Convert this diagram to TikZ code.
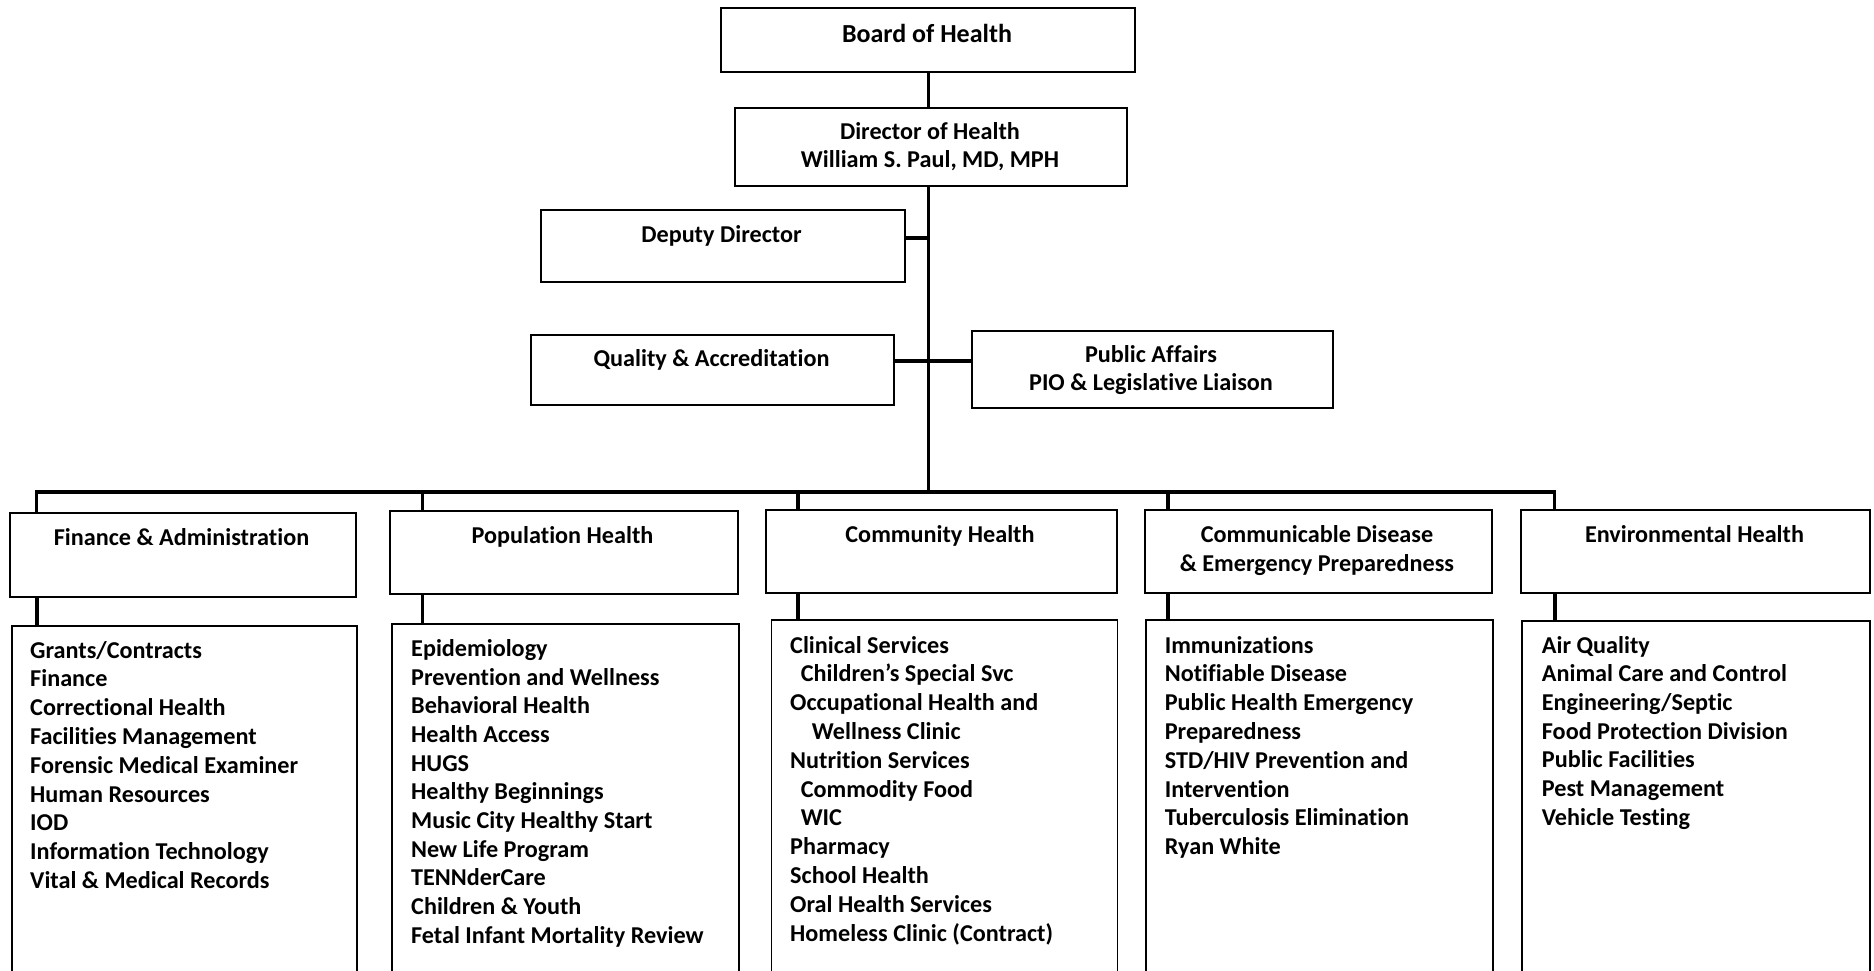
\documentclass[tikz,border=0pt]{standalone}
\usepackage{fontspec}
\setmainfont{Carlito}[Ligatures={NoCommon,NoRare,NoContextual}]
\begin{document}
\begin{tikzpicture}[x=1pt,y=-1pt,
  box/.style={draw=black, line width=1.8pt, inner sep=0pt, anchor=north west},
  conn/.style={line width=3.4pt, black},
  lbl/.style={font=\fontsize{24.2}{29}\selectfont\bfseries, inner sep=0pt, anchor=base},
  item/.style={font=\fontsize{24.2}{29}\selectfont\bfseries, inner sep=0pt, anchor=base west}]
\useasboundingbox[fill=white] (0,0) rectangle (1874,971);

% top boxes
\node[box, minimum width=414pt, minimum height=64pt] (board) at (720,7) {};
\node[box, minimum width=392pt, minimum height=78pt] (director) at (734,107) {};
\node[box, minimum width=364pt, minimum height=72pt] (deputy) at (540,209) {};
\node[box, minimum width=363pt, minimum height=70pt] (quality) at (530,334) {};
\node[box, minimum width=361pt, minimum height=77pt] (public) at (971,330) {};

% department headers
\node[box, minimum width=346pt, minimum height=84pt] (finH) at (9,512) {};
\node[box, minimum width=348pt, minimum height=83pt] (popH) at (389,510) {};
\node[box, minimum width=351pt, minimum height=83pt] (comH) at (765,509) {};
\node[box, minimum width=347pt, minimum height=83pt] (cdH) at (1144,509) {};
\node[box, minimum width=349pt, minimum height=83pt] (envH) at (1520,509) {};

% lists (run off the page bottom)
\node[box, minimum width=345pt, minimum height=380pt] (finL) at (11,625) {};
\node[box, minimum width=347pt, minimum height=380pt] (popL) at (391,623) {};
\node[box, minimum width=346pt, minimum height=380pt] (comL) at (770.5,619) {};
\node[box, minimum width=347pt, minimum height=380pt] (cdL) at (1145,619) {};
\node[box, minimum width=348pt, minimum height=380pt] (envL) at (1521,620) {};

% connector coordinates
\coordinate (busM) at (928.5,492);
\coordinate (busL) at (36.5,492);
\coordinate (busR) at (1554.5,492);
\coordinate (dj) at (928.5,238);
\coordinate (qj) at (928.5,361);
\coordinate (xf) at (37,0);
\coordinate (xp) at (422.5,0);
\coordinate (xc) at (798,0);
\coordinate (xd) at (1168,0);
\coordinate (xe) at (1555,0);

% connectors
\draw[conn] (board.south -| busM) -- (director.north -| busM);
\draw[conn] (director.south -| busM) -- (busM);
\draw[conn] (deputy.east |- dj) -- (dj);
\draw[conn] (quality.east |- qj) -- (public.west |- qj);
\draw[conn] (finH.north -| busL) -- (busL) -- (busR) -- (envH.north -| busR);
\draw[conn] (popH.north -| xp) -- (xp |- busM);
\draw[conn] (comH.north -| xc) -- (xc |- busM);
\draw[conn] (cdH.north -| xd) -- (xd |- busM);
\draw[conn] (finH.south -| xf) -- (finL.north -| xf);
\draw[conn] (popH.south -| xp) -- (popL.north -| xp);
\draw[conn] (comH.south -| xc) -- (comL.north -| xc);
\draw[conn] (cdH.south -| xd) -- (cdL.north -| xd);
\draw[conn] (envH.south -| xe) -- (envL.north -| xe);

% labels
\node[lbl, font=\fontsize{26}{31}\selectfont\bfseries] (tBoard) at (927,42.7) {Board of Health};
\node[lbl] (tDir1) at (930,139.3) {Director of Health};
\node[lbl] (tDir2) at (930,167.7) {William S. Paul, MD, MPH};
\node[lbl] (tDep) at (721.5,242) {Deputy Director};
\node[lbl] (tQual) at (711.5,366.5) {Quality \& Accreditation};
\node[lbl] (tPub1) at (1151,362.7) {Public Affairs};
\node[lbl] (tPub2) at (1151,390.7) {PIO \& Legislative Liaison};
\node[lbl] (tFin) at (181.5,545) {Finance \& Administration};
\node[lbl] (tPop) at (562.5,543) {Population Health};
\node[lbl] (tCom) at (940,542.7) {Community Health};
\node[lbl] (tCd1) at (1317,542.7) {Communicable Disease};
\node[lbl] (tCd2) at (1317,571) {\& Emergency Preparedness};
\node[lbl] (tEnv) at (1694.5,542.3) {Environmental Health};

% list items
\foreach \t [count=\i from 0] in {Grants/Contracts, Finance, Correctional Health,
  Facilities Management, Forensic Medical Examiner, Human Resources, IOD,
  Information Technology, Vital \& Medical Records}
  \node[item] (f\i) at (30,{658+\i*28.8}) {\t};

\foreach \t [count=\i from 0] in {Epidemiology, Prevention and Wellness,
  Behavioral Health, Health Access, HUGS, Healthy Beginnings,
  Music City Healthy Start, New Life Program, TENNderCare,
  Children \& Youth, Fetal Infant Mortality Review}
  \node[item] (p\i) at (411,{656.3+\i*28.7}) {\t};

\foreach \d/\t [count=\i from 0] in {0/Clinical Services,
  10.6/Children’s Special Svc, 0/Occupational Health and,
  21.7/Wellness Clinic, 0/Nutrition Services, 10.6/Commodity Food,
  10.6/WIC, 0/Pharmacy, 0/School Health, 0/Oral Health Services,
  0/Homeless Clinic (Contract)}
  \node[item] (c\i) at ({790+\d},{653+\i*28.8}) {\t};

\foreach \t [count=\i from 0] in {Immunizations, Notifiable Disease,
  Public Health Emergency, Preparedness, STD/HIV Prevention and,
  Intervention, Tuberculosis Elimination, Ryan White}
  \node[item] (d\i) at (1164.6,{653+\i*28.8}) {\t};

\foreach \t [count=\i from 0] in {Air Quality, Animal Care and Control,
  Engineering/Septic, Food Protection Division, Public Facilities,
  Pest Management, Vehicle Testing}
  \node[item] (e\i) at (1541.7,{653+\i*28.7}) {\t};
\end{tikzpicture}
\end{document}
